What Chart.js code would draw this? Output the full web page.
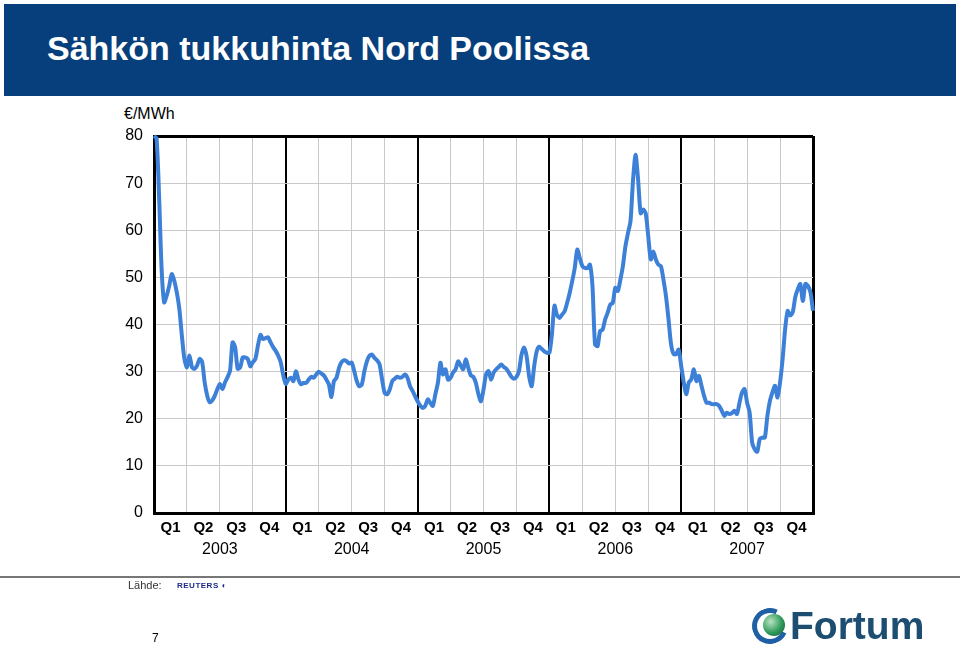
<!DOCTYPE html>
<html>
<head>
<meta charset="utf-8">
<script src="https://cdn.jsdelivr.net/npm/chart.js@4/dist/chart.umd.min.js"></script>
<style>
  body { margin: 0; background: #fff; font-family: "Liberation Sans", Arial, sans-serif; }
  #page { position: relative; width: 960px; height: 650px; overflow: hidden; }
  #band { position: absolute; left: 4px; top: 4px; width: 952px; height: 92px; background: #073f7c; }
  #title { position: absolute; left: 43px; top: 27px; font-size: 34px; line-height: 34px; font-weight: bold; color: #fff; white-space: nowrap; }
  #unit { position: absolute; left: 124px; top: 105px; font-size: 16px; color: #000; }
  #rule { position: absolute; left: 0; top: 576px; width: 960px; height: 2px; background: #777; }
  #source { position: absolute; left: 128px; top: 579px; font-size: 11px; color: #333; }
  #reuters { position: absolute; left: 177px; top: 581px; font-size: 8px; font-weight: bold; color: #1b2a8c; letter-spacing: 0.5px; }
  #pageno { position: absolute; left: 152px; top: 631px; font-size: 12px; color: #000; }
  #logo { position: absolute; left: 752px; top: 604px; width: 180px; height: 44px; }
  #ring { position: absolute; left: 0; top: 4px; width: 26px; height: 26px; border: 5px solid #1f5fa6; border-right-color: transparent; border-radius: 50%; transform: rotate(-20deg); }
  #ball { position: absolute; left: 11px; top: 10px; width: 22px; height: 22px; border-radius: 50%; background: radial-gradient(circle at 35% 35%, #b9e3c4, #2f9a5a 55%, #0f5a34); }
  #brand { position: absolute; left: 38px; top: 0; font-size: 39px; line-height: 44px; font-weight: bold; color: #1d4e72; }
  canvas { position: absolute; left: 0; top: 0; }
</style>
</head>
<body>
<div id="page">
  <div id="band"><div id="title">Sähkön tukkuhinta Nord Poolissa</div></div>
  <div id="unit">€/MWh</div>
  <canvas id="grafico" width="960" height="650"></canvas>
  <div id="rule"></div>
  <div id="source">Lähde:</div>
  <div id="reuters">REUTERS ◐</div>
  <div id="pageno">7</div>
  <div id="logo"><div id="ring"></div><div id="ball"></div><div id="brand">Fortum</div></div>
</div>
<script>
// weekly spot price, €/MWh
const hinta2003 = [80, 79.5, 67.3, 51.8, 44.7, 46.1, 48.2, 50.7, 49.3, 46.8, 43.3, 37.6, 32.7, 30.9, 33.4, 30.9, 30.6, 31.3, 32.7, 32.0, 27.7, 24.9, 23.5, 23.9, 24.9, 26.3, 27.4, 26.3, 27.7, 28.8, 30.2, 36.2, 35.2, 30.6, 30.9, 33.0, 33.0, 32.7, 31.1, 32.0, 32.7, 35.5, 37.8, 36.9, 37.1, 37.3, 36.2, 35.2, 34.4, 33.4, 32.0, 29.2];
const hinta2004 = [27.4, 28.3, 28.7, 28.0, 30.1, 28.3, 27.3, 27.6, 27.6, 28.3, 28.9, 28.7, 29.4, 30.0, 29.6, 29.2, 28.3, 27.3, 24.6, 28.0, 28.7, 30.8, 32.0, 32.4, 32.2, 31.7, 31.9, 30.1, 28.0, 26.9, 27.3, 30.1, 32.2, 33.4, 33.6, 32.9, 32.4, 31.5, 28.3, 25.5, 25.2, 26.2, 28.0, 28.5, 28.9, 28.7, 28.9, 29.4, 28.7, 26.9, 25.9, 24.8];
const hinta2005 = [23.7, 22.8, 22.3, 22.7, 24.1, 23.4, 22.7, 25.2, 27.6, 31.9, 29.4, 30.5, 28.3, 28.7, 29.8, 30.5, 32.2, 31.3, 30.5, 32.6, 30.8, 29.2, 28.9, 27.6, 25.2, 23.7, 26.2, 29.4, 30.1, 28.3, 29.8, 30.5, 31.0, 31.5, 31.0, 30.6, 29.8, 28.9, 28.5, 28.9, 30.1, 33.6, 35.1, 33.3, 29.0, 26.9, 31.2, 34.3, 35.3, 34.8, 34.3, 34.0];
const hinta2006 = [34.0, 38.0, 44.0, 42.0, 41.4, 42.1, 42.8, 44.6, 46.7, 49.2, 52.0, 55.9, 54.1, 52.4, 52.0, 52.0, 52.7, 48.1, 35.8, 35.4, 38.6, 38.9, 41.1, 42.5, 44.2, 44.6, 47.8, 47.1, 49.5, 52.4, 56.6, 59.4, 61.9, 70.7, 76.0, 70.7, 63.6, 64.4, 63.6, 58.7, 53.8, 55.5, 53.8, 52.7, 52.4, 49.5, 46.0, 41.1, 35.8, 33.7, 33.7, 34.7];
const hinta2007 = [31.2, 27.7, 25.2, 27.7, 28.4, 30.5, 28.0, 29.1, 27.0, 24.9, 23.4, 23.4, 23.1, 23.1, 23.1, 22.7, 21.7, 20.6, 21.3, 21.0, 21.2, 21.7, 21.0, 23.4, 25.6, 26.3, 23.4, 21.3, 14.9, 13.5, 13.0, 15.7, 16.0, 16.0, 20.6, 23.8, 25.6, 27.0, 24.5, 27.7, 32.6, 39.0, 42.9, 41.9, 42.6, 45.8, 47.5, 48.6, 45.0, 48.6, 48.2, 46.8, 42.9];

const vuodet = ["2003", "2004", "2005", "2006", "2007"];
const kvartaalit = ["Q1", "Q2", "Q3", "Q4"];
const yTicks = [0, 10, 20, 30, 40, 50, 60, 70, 80];

const hinnat = [].concat(hinta2003, hinta2004, hinta2005, hinta2006, hinta2007);
const pisteet = hinnat.map((v, i) => ({ x: i, y: v }));
const viikkoja = hinnat.length - 1;

const fontti = '"Liberation Sans", Arial, sans-serif';

new Chart(document.getElementById("grafico"), {
  type: "line",
  data: {
    datasets: [{
      data: pisteet,
      borderColor: "#3d80d7",
      borderWidth: 4,
      pointRadius: 0,
      tension: 0.25,
      fill: false,
      clip: 4
    }]
  },
  options: {
    responsive: false,
    animation: false,
    layout: { padding: { left: 104, top: 136, right: 147, bottom: 87 } },
    plugins: { legend: { display: false }, tooltip: { enabled: false } },
    scales: {
      x: {
        type: "linear",
        min: 0,
        max: viikkoja,
        position: "bottom",
        afterBuildTicks: s => {
          const t = [];
          for (let i = 0; i <= vuodet.length * 8; i++) t.push({ value: i * viikkoja / (vuodet.length * 8) });
          s.ticks = t;
        },
        ticks: {
          autoSkip: false,
          maxRotation: 0,
          padding: 6,
          color: "#000",
          font: { family: fontti, size: 15, weight: "bold" },
          callback: (v, i) => i % 2 ? kvartaalit[((i - 1) / 2) % 4] : ""
        },
        grid: {
          drawTicks: false,
          color: c => c.index % 2 ? "rgba(0,0,0,0)" : (c.index % 8 === 0 ? "#000" : "#c9c9c9"),
          lineWidth: c => c.index % 2 ? 0 : (c.index % 8 === 0 ? (c.index === 0 || c.index === 40 ? 3 : 2) : 1)
        },
        border: { color: "#000", width: 3 },
        afterFit: s => { s.height = 26; }
      },
      x2: {
        type: "linear",
        min: 0,
        max: viikkoja,
        position: "bottom",
        afterBuildTicks: s => {
          const t = [];
          for (let i = 0; i <= vuodet.length * 2; i++) t.push({ value: i * viikkoja / (vuodet.length * 2) });
          s.ticks = t;
        },
        ticks: {
          autoSkip: false,
          maxRotation: 0,
          padding: 1,
          color: "#000",
          font: { family: fontti, size: 16 },
          callback: (v, i) => i % 2 ? vuodet[(i - 1) / 2] : ""
        },
        grid: { display: false, drawTicks: false },
        border: { display: false },
        afterFit: s => { s.height = 24; }
      },
      y: {
        min: 0,
        max: 80,
        afterBuildTicks: s => { s.ticks = yTicks.map(v => ({ value: v })); },
        ticks: { padding: 11, color: "#000", font: { family: fontti, size: 16 } },
        grid: {
          drawTicks: false,
          color: c => c.tick.value === 80 ? "#000" : "#c9c9c9",
          lineWidth: c => c.tick.value === 80 ? 3 : 1
        },
        border: { color: "#000", width: 3 },
        afterFit: s => { s.width = 50; }
      }
    }
  }
});
</script>
</body>
</html>
